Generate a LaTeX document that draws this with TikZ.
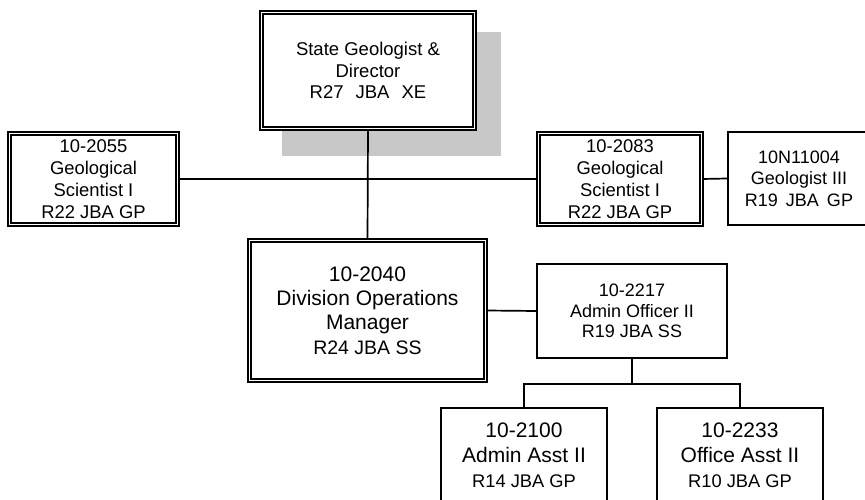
\documentclass[tikz,border=0pt]{standalone}
\usepackage{fontspec}
\setmainfont{Liberation Sans}
\usetikzlibrary{positioning, backgrounds}

\definecolor{shadowgray}{RGB}{200,200,200}

\begin{document}
\begin{tikzpicture}[
    x=1pt, y=1pt,
    dbl/.style={rectangle, draw, double, line width=1.7pt, double distance=1.6pt, fill=white, align=center, inner sep=0pt},
    single/.style={rectangle, draw, line width=1.8pt, fill=white, align=center, inner sep=0pt},
    link/.style={line width=1.7pt}
]
\useasboundingbox (0,0) rectangle (865,499);

% Top: director
\node[dbl, minimum width=213pt, minimum height=116pt, font=\fontsize{18.5}{21.5}\selectfont] (director) at (368,428.5)
    {State Geologist \&\\Director\\R27\hspace{12pt}JBA\hspace{12pt}XE};

% Scientists row
\node[dbl, minimum width=168pt, minimum height=91pt, font=\fontsize{18.4}{22}\selectfont] (sciL) at (93.5,320)
    {10-2055\\Geological\\Scientist I\\R22 JBA GP};
\node[dbl, minimum width=163pt, minimum height=91pt, font=\fontsize{18.4}{22}\selectfont] (sciR) at (620,320)
    {10-2083\\Geological\\Scientist I\\R22 JBA GP};
\node[single, minimum width=142pt, minimum height=93pt, font=\fontsize{18}{21.5}\selectfont] (geo3) at (799,320.5)
    {10N11004\\Geologist III\\R19\hspace{8pt}JBA\hspace{8pt}GP};

% Operations
\node[dbl, minimum width=236pt, minimum height=140pt, font=\fontsize{21}{24}\selectfont] (dom) at (367.5,188.5)
    {10-2040\\Division Operations\\Manager\\[1pt]\fontsize{19.5}{22}\selectfont R24 JBA SS};
\node[single, minimum width=190pt, minimum height=94pt, font=\fontsize{18}{20.5}\selectfont] (aoff) at (632,188)
    {10-2217\\Admin Officer II\\R19 JBA SS};

% Assistants
\node[single, minimum width=166pt, minimum height=94pt, font=\fontsize{21}{25}\selectfont] (asst) at (524,44)
    {10-2100\\Admin Asst II\\\fontsize{18.3}{24}\selectfont R14 JBA GP};
\node[single, minimum width=166pt, minimum height=94pt, font=\fontsize{21}{25}\selectfont] (office) at (740,44)
    {10-2233\\Office Asst II\\\fontsize{18.3}{24}\selectfont R10 JBA GP};

% Shadow behind the director
\begin{scope}[on background layer]
\fill[shadowgray] ([xshift=21.6pt,yshift=-26.4pt]director.south west) rectangle ([xshift=25.4pt,yshift=-20.6pt]director.north east);
\end{scope}

% Connectors
\draw[link] (sciL.east) -- (sciR.west);
\draw[link] (sciR.east) -- (geo3.west);
\draw[link] (director.south) -- (dom.north);
\draw[link] (dom.east) -- (aoff.west);
\draw[link] (aoff.south) -- ++(0,-25) coordinate (split);
\draw[link] (split) -| (asst.north);
\draw[link] (split) -| (office.north);
\end{tikzpicture}
\end{document}
